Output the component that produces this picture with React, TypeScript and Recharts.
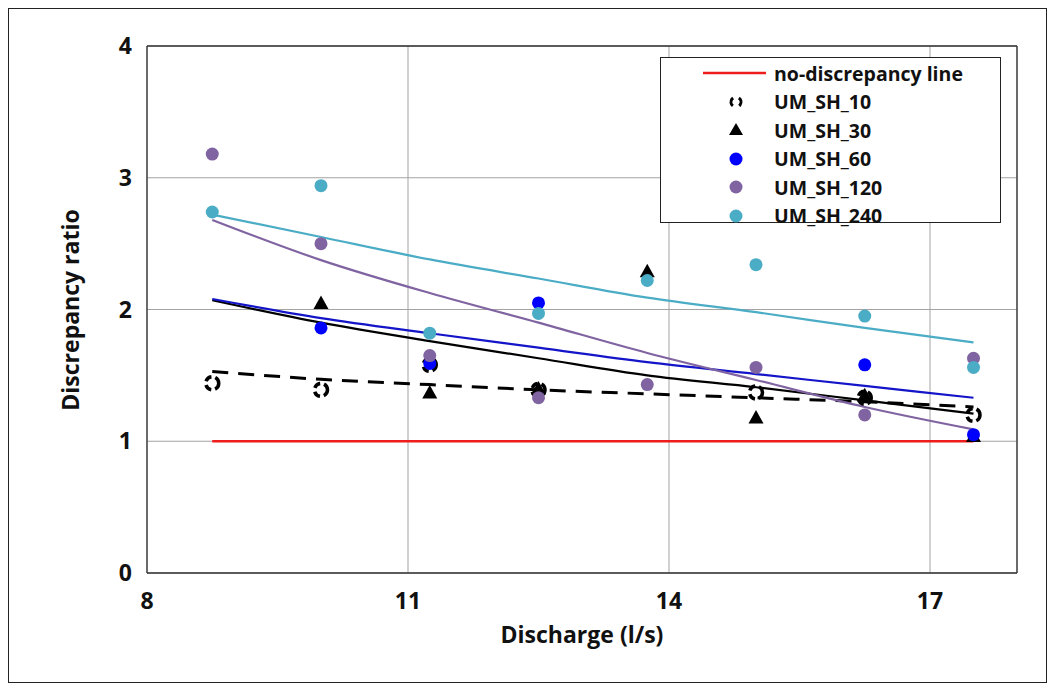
import React from 'react';
import {
  CartesianGrid,
  ComposedChart,
  Line,
  ReferenceLine,
  Scatter,
  XAxis,
  YAxis,
} from 'recharts';

// discharge (l/s) at which every configuration was tested
const discharge = [8.75, 10, 11.25, 12.5, 13.75, 15, 16.25, 17.5];

// measured discrepancy ratios per configuration
const umSh10 = [1.44, 1.39, 1.58, 1.39, null, 1.37, 1.33, 1.2];
const umSh30 = [null, 2.05, 1.37, 1.4, 2.29, 1.18, 1.35, 1.04];
const umSh60 = [null, 1.86, 1.59, 2.05, null, null, 1.58, 1.05];
const umSh120 = [3.18, 2.5, 1.65, 1.33, 1.43, 1.56, 1.2, 1.63];
const umSh240 = [2.74, 2.94, 1.82, 1.97, 2.22, 2.34, 1.95, 1.56];

// trendlines per configuration (power fits)
const trend10 = [1.53, 1.47, 1.43, 1.39, 1.36, 1.33, 1.3, 1.26];
const trend30 = [2.07, 1.9, 1.76, 1.63, 1.5, 1.41, 1.31, 1.21];
const trend60 = [2.08, 1.935, 1.82, 1.71, 1.6, 1.51, 1.42, 1.33];
const trend120 = [2.68, 2.375, 2.125, 1.9, 1.67, 1.465, 1.26, 1.09];
const trend240 = [2.72, 2.55, 2.38, 2.235, 2.09, 1.98, 1.86, 1.75];

const noDiscrepancyX = [8.75, 17.5];
const noDiscrepancyY = [1, 1];

const xTicks = [8, 11, 14, 17];
const yTicks = [0, 1, 2, 3, 4];

const FONT = "'Open Sans', sans-serif";
const BLUE = '#0000ff';
const BLUE_TREND = '#1414c8';
const PURPLE = '#8064a2';
const AQUA = '#4bacc6';
const RED = '#ee1c1c';

type Pt = { x: number; y: number };

const toPoints = (xs: number[], ys: (number | null)[]): Pt[] =>
  xs
    .map((x, i) => ({ x, y: ys[i] }))
    .filter((p): p is Pt => p.y !== null && p.y !== undefined);

const DashedCircle = ({ cx, cy }: any) => (
  <circle
    cx={cx}
    cy={cy}
    r={6.5}
    fill='none'
    stroke='#000'
    strokeWidth={3.5}
    strokeDasharray='7 4'
  />
);

const Triangle = ({ cx, cy }: any) => (
  <path
    d={`M${cx},${cy - 7.5} L${cx + 7.5},${cy + 6} L${cx - 7.5},${cy + 6} Z`}
    fill='#000'
  />
);

const dot = (color: string) => ({ cx, cy }: any) => (
  <circle cx={cx} cy={cy} r={6.5} fill={color} />
);

const legendRows: { label: string; symbol: React.ReactNode }[] = [
  {
    label: 'no-discrepancy line',
    symbol: <line x1={0} y1={10} x2={63} y2={10} stroke={RED} strokeWidth={2.5} />,
  },
  {
    label: 'UM_SH_10',
    symbol: (
      <circle cx={33} cy={10} r={5} fill='none' stroke='#000' strokeWidth={3}
        strokeDasharray='9 6.7' transform='rotate(-55 33 10)' />
    ),
  },
  { label: 'UM_SH_30', symbol: <path d='M33,3 L40,15 L26,15 Z' fill='#000' /> },
  { label: 'UM_SH_60', symbol: <circle cx={33} cy={10} r={6.5} fill={BLUE} /> },
  { label: 'UM_SH_120', symbol: <circle cx={33} cy={10} r={6.5} fill={PURPLE} /> },
  { label: 'UM_SH_240', symbol: <circle cx={33} cy={10} r={6.5} fill={AQUA} /> },
];

function ChartLegend() {
  return (
    <div
      style={{
        position: 'absolute',
        left: 651,
        top: 48,
        width: 341,
        height: 166,
        background: '#fff',
        border: '1px solid #222',
        boxSizing: 'border-box',
        paddingTop: 1,
      }}
    >
      {legendRows.map((row) => (
        <div
          key={row.label}
          style={{ display: 'flex', alignItems: 'center', height: 28.5 }}
        >
          <svg width={63} height={20} style={{ marginLeft: 42, marginRight: 8 }}>
            {row.symbol}
          </svg>
          <span style={{ fontWeight: 700, fontSize: 19.5, color: '#111' }}>
            {row.label}
          </span>
        </div>
      ))}
    </div>
  );
}

export default function App() {
  const tick = { fill: '#111', fontSize: 23, fontWeight: 700, fontFamily: FONT };

  return (
    <div
      style={{
        position: 'relative',
        width: 1037,
        height: 673,
        border: '1px solid #222',
        fontFamily: FONT,
        background: '#fff',
      }}
    >
      <ComposedChart
        width={1037}
        height={673}
        margin={{ top: 37, right: 29, bottom: 79, left: 78 }}
      >
        <CartesianGrid stroke='#a3a3a3' strokeWidth={1} />
        <XAxis
          type='number'
          dataKey='x'
          domain={[8, 18]}
          ticks={xTicks}
          allowDataOverflow
          tick={tick}
          tickSize={0}
          tickMargin={20}
          stroke='#333'
          strokeWidth={1.3}
        />
        <YAxis
          type='number'
          dataKey='y'
          domain={[0, 4]}
          ticks={yTicks}
          allowDataOverflow
          tick={tick}
          tickSize={0}
          tickMargin={15}
          width={60}
          stroke='#333'
          strokeWidth={1.3}
        />
        <ReferenceLine y={4} stroke='#333' strokeWidth={1.3} />
        <ReferenceLine x={18} stroke='#333' strokeWidth={1.3} />

        <Line
          data={toPoints(noDiscrepancyX, noDiscrepancyY)}
          dataKey='y'
          stroke={RED}
          strokeWidth={2.5}
          dot={false}
          isAnimationActive={false}
        />

        <Scatter data={toPoints(discharge, umSh10)} dataKey='y' shape={DashedCircle} isAnimationActive={false} />
        <Scatter data={toPoints(discharge, umSh30)} dataKey='y' shape={Triangle} isAnimationActive={false} />
        <Scatter data={toPoints(discharge, umSh60)} dataKey='y' shape={dot(BLUE)} isAnimationActive={false} />
        <Scatter data={toPoints(discharge, umSh120)} dataKey='y' shape={dot(PURPLE)} isAnimationActive={false} />
        <Scatter data={toPoints(discharge, umSh240)} dataKey='y' shape={dot(AQUA)} isAnimationActive={false} />

        <Line data={toPoints(discharge, trend10)} dataKey='y' type='monotone' stroke='#000'
          strokeWidth={3} strokeDasharray='16 10' dot={false} isAnimationActive={false} />
        <Line data={toPoints(discharge, trend30)} dataKey='y' type='monotone' stroke='#000'
          strokeWidth={2.2} dot={false} isAnimationActive={false} />
        <Line data={toPoints(discharge, trend60)} dataKey='y' type='monotone' stroke={BLUE_TREND}
          strokeWidth={2.2} dot={false} isAnimationActive={false} />
        <Line data={toPoints(discharge, trend120)} dataKey='y' type='monotone' stroke={PURPLE}
          strokeWidth={2.2} dot={false} isAnimationActive={false} />
        <Line data={toPoints(discharge, trend240)} dataKey='y' type='monotone' stroke={AQUA}
          strokeWidth={2.2} dot={false} isAnimationActive={false} />
      </ComposedChart>

      <ChartLegend />

      <div
        style={{
          position: 'absolute',
          left: 453,
          top: 609,
          width: 240,
          textAlign: 'center',
          fontWeight: 700,
          fontSize: 23,
          color: '#111',
        }}
      >
        Discharge (l/s)
      </div>
      <div
        style={{
          position: 'absolute',
          left: 61 - 130,
          top: 301 - 16,
          width: 260,
          height: 32,
          lineHeight: '32px',
          textAlign: 'center',
          fontWeight: 700,
          fontSize: 23,
          color: '#111',
          transform: 'rotate(-90deg)',
        }}
      >
        Discrepancy ratio
      </div>
    </div>
  );
}
